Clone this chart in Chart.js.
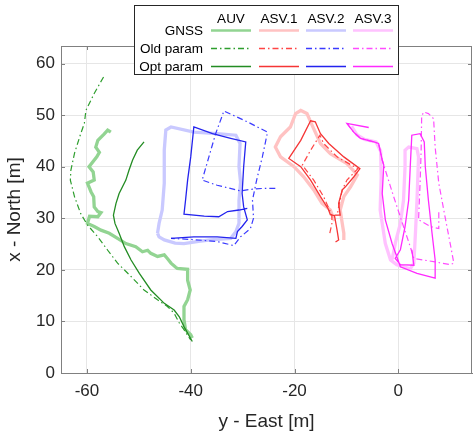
<!DOCTYPE html>
<html>
<head>
<meta charset="utf-8">
<script src="https://cdn.jsdelivr.net/npm/chart.js@4.4.1/dist/chart.umd.min.js"></script>
<style>
  html, body { margin: 0; padding: 0; background: #fff; }
</style>
</head>
<body>
<canvas id="traj" width="474" height="436"></canvas>
<script>
// tick labels
var xTicks = [-60, -40, -20, 0];
var yTicks = [0, 10, 20, 30, 40, 50, 60];

// legend texts
var vehicles = ['AUV', 'ASV.1', 'ASV.2', 'ASV.3'];
var rowNames = ['GNSS', 'Old param', 'Opt param'];

// trajectories [east, north] in m
var auvGnss = [[-55.4,46.7],[-56.0,47.1],[-56.7,46.3],[-57.9,45.1],[-58.3,43.8],[-57.6,42.8],[-58.1,41.9],[-59.6,40.0],[-58.8,39.0],[-58.6,37.4],[-59.9,36.8],[-59.2,35.1],[-58.7,34.2],[-58.6,32.2],[-57.9,31.3],[-57.3,31.1],[-57.9,30.3],[-59.5,30.4],[-59.9,29.0],[-58.6,28.4],[-57.3,27.7],[-55.7,27.1],[-54.1,26.1],[-52.5,25.1],[-50.6,24.5],[-49.3,23.5],[-48.3,23.8],[-47.7,23.2],[-46.4,22.6],[-45.1,22.9],[-44.5,22.2],[-43.8,21.3],[-42.9,20.5],[-42.6,20.3],[-40.6,20.1],[-40.6,18.0],[-40.1,16.1],[-40.6,14.2],[-41.3,12.9],[-41.3,10.3],[-41.0,8.4],[-40.0,7.4],[-39.7,6.8]];
var auvOld = [[-56.8,57.4],[-58.6,54.2],[-60.2,50.9],[-60.5,48.4],[-61.2,46.4],[-62.4,42.6],[-63.1,39.3],[-63.2,37.4],[-62.4,34.2],[-61.2,30.9],[-59.9,28.7],[-57.9,26.4],[-56.0,23.8],[-54.1,21.3],[-51.5,18.7],[-49.0,16.1],[-46.4,14.2],[-44.5,12.9],[-43.2,11.6],[-42.2,9.7],[-41.3,8.4],[-40.0,6.4]];
var auvOpt = [[-49.0,44.8],[-50.3,43.2],[-51.2,41.3],[-51.9,39.3],[-52.5,37.4],[-53.8,34.8],[-54.4,32.9],[-54.9,30.6],[-54.6,29.0],[-53.8,27.1],[-52.8,24.5],[-51.5,21.9],[-49.9,19.3],[-47.7,16.1],[-45.1,13.5],[-43.2,12.2],[-42.2,10.9],[-41.3,9.0],[-39.7,6.1]];

var asv1Gnss = [[-10.5,25.8],[-10.5,27.1],[-10.8,29.0],[-11.2,31.6],[-10.5,34.2],[-9.2,36.1],[-7.9,38.4],[-9.9,40.6],[-13.1,42.5],[-15.0,44.5],[-16.6,48.0],[-17.6,50.3],[-18.8,50.9],[-19.8,50.3],[-20.8,47.7],[-22.7,45.8],[-23.7,43.8],[-22.7,41.9],[-20.1,40.0],[-18.2,38.0],[-16.3,35.5],[-14.7,32.9],[-13.1,31.6],[-12.3,29.5]];
var asv1Old = [[-13.2,27.1],[-12.8,29.0],[-12.8,30.6],[-14.4,34.2],[-16.3,37.4],[-18.5,40.3],[-16.9,43.2],[-15.1,46.1],[-14.4,44.5],[-11.8,41.9],[-7.8,39.6],[-9.9,37.4],[-10.8,35.5],[-11.5,32.2],[-11.8,30.5]];
var asv1Opt = [[-12.1,25.4],[-11.5,25.8],[-11.8,27.7],[-12.3,30.5],[-13.1,30.7],[-13.5,31.8],[-15.0,34.2],[-16.9,37.4],[-18.8,40.0],[-21.1,41.6],[-18.8,45.1],[-16.9,48.9],[-16.0,48.7],[-15.0,46.4],[-13.4,44.5],[-10.5,41.9],[-7.4,39.6],[-8.6,38.0],[-10.2,36.1],[-10.8,35.5],[-11.5,32.9],[-11.2,30.6],[-12.3,30.6]];

var asv2Gnss = [[-46.4,27.1],[-46.1,26.4],[-45.1,25.8],[-43.0,25.2],[-41.3,25.1],[-38.5,25.5],[-36.2,25.8],[-32.3,26.1],[-31.3,27.4],[-30.7,29.0],[-30.7,33.5],[-30.4,37.0],[-30.7,40.0],[-30.5,44.5],[-31.3,46.1],[-34.9,46.4],[-39.4,46.7],[-43.8,47.7],[-44.8,47.1],[-45.1,43.2],[-45.1,36.8],[-45.5,31.6],[-46.1,29.0],[-46.4,27.1]];
var asv2Old = [[-23.7,35.8],[-25.9,35.8],[-28.5,35.6],[-30.4,35.3],[-34.9,36.4],[-37.8,37.4],[-36.5,41.9],[-35.2,46.4],[-33.6,50.8],[-29.1,48.7],[-25.2,46.7],[-26.2,41.9],[-27.3,37.4],[-28.1,33.5],[-27.9,30.0],[-28.5,28.0],[-30.4,26.4],[-31.7,24.7],[-34.9,25.5],[-40.0,25.9],[-43.8,26.1]];
var asv2Opt = [[-43.8,26.1],[-39.4,26.4],[-34.9,26.4],[-31.3,26.1],[-31.0,27.4],[-30.1,28.4],[-29.1,29.7],[-29.8,32.2],[-30.1,34.8],[-29.8,40.0],[-29.4,44.8],[-32.3,45.5],[-35.8,46.4],[-39.4,47.7],[-40.0,41.9],[-40.6,37.4],[-41.0,33.5],[-41.3,30.8],[-37.4,30.4],[-34.6,30.3],[-32.9,31.3],[-30.7,31.6],[-29.1,31.9]];

var asv3Gnss = [[-9.0,47.8],[-8.0,46.2],[-6.5,45.3],[-4.3,44.8],[-3.4,43.0],[-3.3,38.0],[-3.5,31.6],[-2.5,25.1],[-1.5,21.9],[-0.3,21.0],[2.3,20.2],[3.0,21.3],[3.3,27.1],[3.6,33.5],[3.9,41.9],[3.6,43.5],[2.0,43.8],[1.3,43.2],[1.3,40.0],[1.0,33.5],[0.4,29.0],[-0.5,25.5],[-1.2,22.0]];
var asv3Old = [[-9.9,48.4],[-8.6,46.7],[-7.3,45.5],[-4.7,44.8],[-3.8,44.5],[-3.1,41.3],[-2.8,40.3],[-0.9,34.2],[1.0,28.4],[2.3,24.5],[3.0,22.2],[6.8,21.6],[10.0,21.0],[10.7,21.3],[10.0,25.1],[9.0,30.3],[7.8,36.8],[7.1,43.8],[6.8,49.3],[5.8,50.3],[4.9,50.6],[4.5,49.8],[4.4,43.2],[4.2,36.8],[3.9,29.7],[6.2,28.4],[7.8,28.0],[7.8,31.6]];
var asv3Opt = [[-5.7,47.6],[-9.9,48.4],[-8.6,46.7],[-7.3,45.5],[-4.7,44.8],[-3.8,44.5],[-3.1,41.3],[-2.8,40.3],[-3.1,34.8],[-2.5,29.7],[-1.2,25.1],[-0.3,22.6],[0.4,20.6],[3.6,19.3],[7.1,18.4],[7.1,21.9],[6.5,27.1],[5.8,33.5],[5.2,40.0],[5.0,44.8],[4.2,46.4],[2.6,46.1],[2.3,40.0],[2.0,33.5],[1.3,28.4],[0.4,23.9],[-0.6,22.2],[0.4,21.0],[3.0,20.9],[2.6,23.9]];

// colours per vehicle: gnss, old, opt
var colors = [
  ['#92d492', '#2e9e2e', '#238c23'],
  ['#ffc2c2', '#ff4545', '#f53535'],
  ['#c9c9ff', '#3a3aff', '#2323ee'],
  ['#ffc2ff', '#ff4cff', '#ff2aff']
];
var tracks = [
  [auvGnss, auvOld, auvOpt],
  [asv1Gnss, asv1Old, asv1Opt],
  [asv2Gnss, asv2Old, asv2Opt],
  [asv3Gnss, asv3Old, asv3Opt]
];
var widths = [3.3, 1.2, 1.3];
var dashes = [[], [6, 3, 1.5, 3], []];

var datasets = [];
tracks.forEach(function (set, v) {
  set.forEach(function (pts, k) {
    datasets.push({
      label: vehicles[v] + ' ' + rowNames[k],
      data: pts.map(function (p) { return { x: p[0], y: p[1] }; }),
      showLine: true,
      borderColor: colors[v][k],
      borderWidth: widths[k],
      borderDash: dashes[k],
      pointRadius: 0,
      tension: 0,
      fill: false,
      order: 3 - k
    });
  });
});

// box + inward ticks like matlab
var boxPlugin = {
  id: 'box',
  afterDatasetsDraw: function (chart) {
    var c = chart.ctx, a = chart.chartArea;
    var xs = chart.scales.x, ys = chart.scales.y;
    c.save();
    c.strokeStyle = '#808080';
    c.lineWidth = 1;
    c.beginPath();
    c.moveTo(a.left, a.top + 0.5); c.lineTo(a.right, a.top + 0.5);
    c.moveTo(a.right - 0.5, a.top); c.lineTo(a.right - 0.5, a.bottom);
    xTicks.forEach(function (v) {
      var px = Math.round(xs.getPixelForValue(v)) + 0.5;
      c.moveTo(px, a.bottom); c.lineTo(px, a.bottom - 4);
      c.moveTo(px, a.top); c.lineTo(px, a.top + 4);
    });
    yTicks.forEach(function (v) {
      var py = Math.round(ys.getPixelForValue(v)) + 0.5;
      c.moveTo(a.left, py); c.lineTo(a.left + 4, py);
      c.moveTo(a.right, py); c.lineTo(a.right - 4, py);
    });
    c.stroke();
    c.restore();
  }
};

// table legend
var tableLegend = {
  id: 'tableLegend',
  afterDraw: function (chart) {
    var c = chart.ctx;
    c.save();
    c.fillStyle = '#fff';
    c.fillRect(134, 5, 264, 69);
    c.strokeStyle = '#262626';
    c.lineWidth = 1;
    c.strokeRect(134.5, 5.5, 264, 69);
    c.font = '13.5px "Liberation Sans", Arial, sans-serif';
    c.fillStyle = '#000';
    c.textBaseline = 'middle';
    var colX = [211, 259, 306, 353];
    var rowY = [30, 48, 66];
    c.textAlign = 'center';
    vehicles.forEach(function (name, i) {
      c.fillText(name, colX[i] + 20, 19);
    });
    c.textAlign = 'right';
    rowNames.forEach(function (name, k) {
      c.fillText(name, 203, rowY[k] + 1);
    });
    vehicles.forEach(function (name, i) {
      rowNames.forEach(function (r, k) {
        c.beginPath();
        c.strokeStyle = colors[i][k];
        c.lineWidth = k === 0 ? 2.5 : 1.3;
        c.setLineDash(dashes[k]);
        c.moveTo(colX[i], rowY[k] + 0.5);
        c.lineTo(colX[i] + 40, rowY[k] + 0.5);
        c.stroke();
      });
    });
    c.restore();
  }
};

var ctx = document.getElementById('traj').getContext('2d');
var chart = new Chart(ctx, {
  type: 'scatter',
  data: { datasets: datasets },
  options: {
    responsive: false,
    animation: false,
    layout: { padding: { left: 0, top: 46, right: 2, bottom: 0 } },
    plugins: {
      legend: { display: false },
      tooltip: { enabled: false }
    },
    scales: {
      x: {
        type: 'linear',
        min: -65,
        max: 14.2,
        afterBuildTicks: function (s) { s.ticks = xTicks.map(function (v) { return { value: v }; }); },
        afterFit: function (s) { s.height = 63; },
        grid: { color: '#e6e6e6', drawTicks: false },
        border: { color: '#808080' },
        ticks: { color: '#262626', font: { family: '"Liberation Sans", Arial', size: 17 }, padding: 8, maxRotation: 0 },
        title: { display: true, text: 'y - East [m]', color: '#262626', font: { family: '"Liberation Sans", Arial', size: 19 }, padding: { top: 0, bottom: 3 } }
      },
      y: {
        type: 'linear',
        min: 0,
        max: 63.4,
        afterBuildTicks: function (s) { s.ticks = yTicks.map(function (v) { return { value: v }; }); },
        afterFit: function (s) { s.width = 61; },
        grid: { color: '#e6e6e6', drawTicks: false },
        border: { color: '#808080' },
        ticks: { color: '#262626', font: { family: '"Liberation Sans", Arial', size: 17 }, padding: 6 },
        title: { display: true, text: 'x - North [m]', color: '#262626', font: { family: '"Liberation Sans", Arial', size: 19 }, padding: { top: 3, bottom: 0 } }
      }
    }
  },
  plugins: [boxPlugin, tableLegend]
});
</script>
</body>
</html>
